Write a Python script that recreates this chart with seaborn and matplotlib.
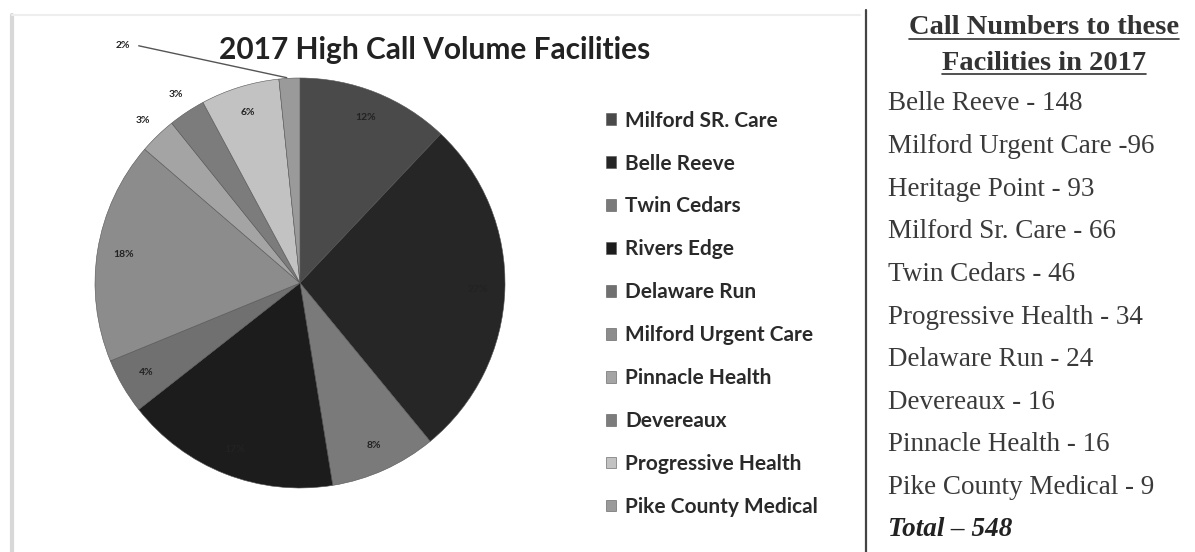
import matplotlib
matplotlib.use("Agg")
import matplotlib.pyplot as plt
import seaborn as sns
import numpy as np
from matplotlib.lines import Line2D

# pie data (2017 call volume)
pie_labels = ["Milford SR. Care", "Belle Reeve", "Twin Cedars", "Rivers Edge",
              "Delaware Run", "Milford Urgent Care", "Pinnacle Health",
              "Devereaux", "Progressive Health", "Pike County Medical"]
pie_counts = [66, 148, 46, 93, 24, 96, 16, 16, 34, 9]
pie_colors = ["#4a4a4a", "#262626", "#7a7a7a", "#1c1c1c", "#707070",
              "#8c8c8c", "#a4a4a4", "#7c7c7c", "#c2c2c2", "#9a9a9a"]

# side table
table_names = ["Belle Reeve", "Milford Urgent Care", "Heritage Point", "Milford Sr. Care",
               "Twin Cedars", "Progressive Health", "Delaware Run", "Devereaux",
               "Pinnacle Health", "Pike County Medical"]
table_counts = [148, 96, 93, 66, 46, 34, 24, 16, 16, 9]
table_seps = [" - ", " -", " - ", " - ", " - ", " - ", " - ", " - ", " - ", " - "]

sns.set_theme(style="white")
plt.rcParams['font.family'] = ['Lato', 'DejaVu Sans']

W, H = 1195, 552
fig = plt.figure(figsize=(W / 100, H / 100), dpi=100)

# pie axes: center (300, 283) px, radius ~205 px
cx, cy, r = 300, 283, 205
ax = fig.add_axes([(cx - r) / W, (H - cy - r) / H, 2 * r / W, 2 * r / H])
wedges, texts, autotexts = ax.pie(pie_counts, colors=pie_colors, startangle=90,
                                  counterclock=False, autopct='%1.0f%%',
                                  pctdistance=0.87,
                                  wedgeprops=dict(linewidth=0.4, edgecolor="#555555"),
                                  textprops=dict(fontsize=7.5, fontweight='bold', color='#222222'))
ax.set_xlim(-1, 1)
ax.set_ylim(-1, 1)
ax.set_aspect('auto')

# move the small slice labels outside, like the original
total = sum(pie_counts)
cum = np.cumsum([0] + pie_counts)
for i, t in enumerate(autotexts):
    mid = (cum[i] + cum[i + 1]) / 2 / total * 2 * np.pi
    if i in (6, 7):
        t.set_position((1.1 * np.sin(mid), 1.1 * np.cos(mid)))
    if i == 9:
        t.set_position((-0.83, 1.16))
        t.set_ha('right')
        ex, ey = np.sin(mid), np.cos(mid)
        ax.annotate("", xy=(ex, ey), xytext=(-0.8, 1.16),
                    arrowprops=dict(arrowstyle='-', color='#555555', lw=1),
                    annotation_clip=False)

fig.text(435 / W, 1 - 50 / H, "2017 High Call Volume Facilities",
         ha='center', va='center', fontsize=21.5, fontweight='bold', color='#222222')

fig.legend(wedges, pie_labels, loc='upper left',
           bbox_to_anchor=(591 / W, 1 - 96 / H), frameon=False,
           labelspacing=1.1, handlelength=0.5, handleheight=0.5,
           handletextpad=0.45, labelcolor='#2a2a2a', borderpad=0.2,
           prop=dict(size=15, weight='bold'))

# frame lines
fig.add_artist(Line2D([12 / W, 12 / W], [0, 1 - 15 / H], color='#d8d8d8', lw=3))
fig.add_artist(Line2D([12 / W, 860 / W], [1 - 15 / H, 1 - 15 / H], color='#eeeeee', lw=1.5))
fig.add_artist(Line2D([866 / W, 866 / W], [0, 1 - 10 / H], color='#444444', lw=1.6))

# side table (serif)
serif = ['Liberation Serif', 'DejaVu Serif']
tx = 1044 / W
t1 = fig.text(tx, 1 - 28 / H, "Call Numbers to these", ha='center', va='center',
              family=serif, fontsize=20.5, fontweight='bold', color='#333333')
t2 = fig.text(tx, 1 - 63 / H, "Facilities in 2017", ha='center', va='center',
              family=serif, fontsize=20.5, fontweight='bold', color='#333333')
fig.canvas.draw()
rend = fig.canvas.get_renderer()
for t in (t1, t2):
    bb = t.get_window_extent(rend)
    yline = bb.y0 + 2
    fig.add_artist(Line2D([bb.x0 / W, bb.x1 / W], [yline / H, yline / H],
                          color='#333333', lw=1.2))

y0, dy = 104, 42.6
for i, (n, s, c) in enumerate(zip(table_names, table_seps, table_counts)):
    fig.text(888 / W, 1 - (y0 + i * dy) / H, f"{n}{s}{c}", ha='left', va='center',
             family=serif, fontsize=19.5, color='#3a3a3a')
fig.text(888 / W, 1 - (y0 + 10 * dy) / H, f"Total \u2013 {sum(table_counts)}",
         ha='left', va='center', family=serif, fontsize=19.5, fontweight='bold',
         style='italic', color='#222222')

fig.savefig("out.png", dpi=100)
